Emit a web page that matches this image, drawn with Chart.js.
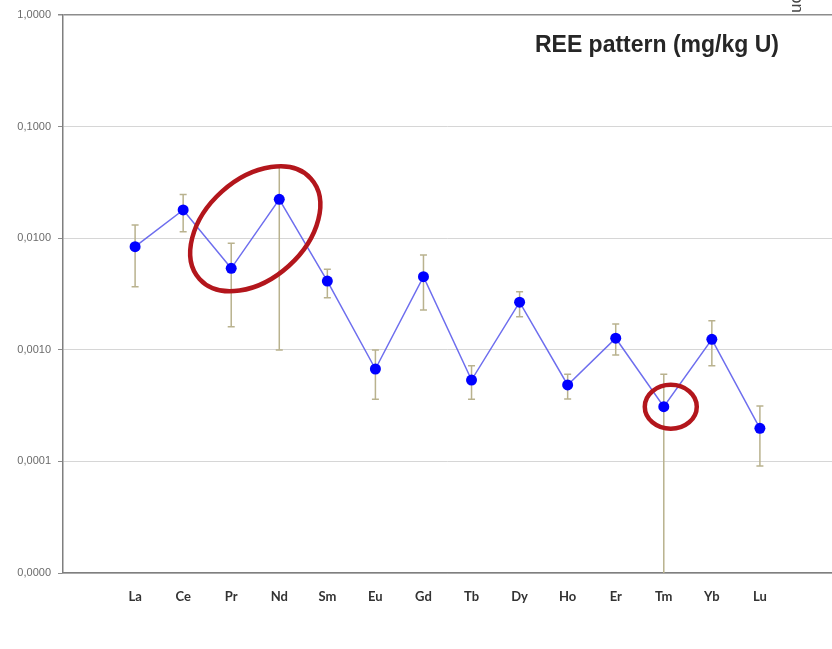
<!DOCTYPE html>
<html lang="en">
  <head>
    <meta charset="UTF-8" />
    <title>REE pattern</title>
    <script src="https://cdn.jsdelivr.net/npm/chart.js"></script>
    <style>
      body {
        margin: 0;
        background: #ffffff;
      }
      canvas {
        display: block;
      }
    </style>
  </head>
  <body>
    <canvas id="reeChart" width="832" height="649"></canvas>

    <script>
      // empty slots at both ends keep the spacing of the original axis
      const categories = ["", "La", "Ce", "Pr", "Nd", "Sm", "Eu", "Gd", "Tb", "Dy", "Ho", "Er", "Tm", "Yb", "Lu", ""];
      const values = [null, 0.00839, 0.0179, 0.00537, 0.0223, 0.00413, 0.000673, 0.00452, 0.000536, 0.00267, 0.000484, 0.00127, 0.000309, 0.00124, 0.000198, null];
      const errHigh = [null, 0.0131, 0.0247, 0.009, 0.0435, 0.00526, 0.000996, 0.00707, 0.000721, 0.00332, 0.000603, 0.0017, 0.000603, 0.00182, 0.000313, null];
      const errLow = [null, 0.00368, 0.01143, 0.00161, 0.000996, 0.00293, 0.00036, 0.00227, 0.00036, 0.00198, 0.000362, 0.000898, 0.00001, 0.000721, 0.000091, null];
      const yTicks = [1, 0.1, 0.01, 0.001, 0.0001, 0.00001];
      const yTickLabels = ["1,0000", "0,1000", "0,0100", "0,0010", "0,0001", "0,0000"];
      const chartTitle = "REE pattern (mg/kg U)";

      // error bars, drawn under the line
      const errorBars = {
        id: "errorBars",
        beforeDatasetsDraw(chart) {
          const { ctx, chartArea, scales } = chart;
          ctx.save();
          ctx.beginPath();
          ctx.rect(chartArea.left, chartArea.top, chartArea.right - chartArea.left, chartArea.bottom - chartArea.top);
          ctx.clip();
          ctx.strokeStyle = "#b9b28e";
          ctx.lineWidth = 1.5;
          for (let i = 0; i < categories.length; i++) {
            if (values[i] == null) continue;
            const x = scales.x.getPixelForValue(i);
            const top = scales.y.getPixelForValue(errHigh[i]);
            const bot = scales.y.getPixelForValue(errLow[i]);
            ctx.beginPath();
            ctx.moveTo(x, top);
            ctx.lineTo(x, bot);
            ctx.moveTo(x - 3.5, top);
            ctx.lineTo(x + 3.5, top);
            if (bot < chartArea.bottom - 1) {
              ctx.moveTo(x - 3.5, bot);
              ctx.lineTo(x + 3.5, bot);
            }
            ctx.stroke();
          }
          ctx.restore();
        },
      };

      // red circles marking Pr/Nd and Tm, plus the title text
      const notes = {
        id: "notes",
        afterDraw(chart) {
          const { ctx, scales } = chart;
          ctx.save();
          ctx.strokeStyle = "#b3161c";
          ctx.lineWidth = 4.5;

          const prX = scales.x.getPixelForValue(3);
          const ndX = scales.x.getPixelForValue(4);
          const prY = scales.y.getPixelForValue(values[3]);
          const ndY = scales.y.getPixelForValue(values[4]);
          ctx.beginPath();
          ctx.ellipse((prX + ndX) / 2, (prY + ndY) / 2 - 5, 75, 50, (-42 * Math.PI) / 180, 0, Math.PI * 2);
          ctx.stroke();

          const tmX = scales.x.getPixelForValue(12);
          const tmY = scales.y.getPixelForValue(values[12]);
          ctx.beginPath();
          ctx.ellipse(tmX + 7, tmY, 26, 22, 0, 0, Math.PI * 2);
          ctx.stroke();

          ctx.fillStyle = "#262626";
          ctx.font = "bold 23px 'Liberation Sans', Arial, sans-serif";
          ctx.textAlign = "right";
          ctx.textBaseline = "middle";
          ctx.fillText(chartTitle, 779, 46);

          // cut-off rotated label at the top right
          ctx.translate(797, -6);
          ctx.rotate(Math.PI / 2);
          ctx.font = "17px 'Liberation Sans', Arial, sans-serif";
          ctx.textAlign = "left";
          ctx.fillStyle = "#444";
          ctx.fillText("on", 0, 0);
          ctx.restore();
        },
      };

      const ctx = document.getElementById("reeChart").getContext("2d");
      new Chart(ctx, {
        type: "line",
        data: {
          labels: categories,
          datasets: [
            {
              data: values,
              borderColor: "rgba(85, 85, 235, 0.85)",
              borderWidth: 1.5,
              tension: 0,
              pointRadius: 5.5,
              pointBackgroundColor: "#0000ff",
              pointBorderWidth: 0,
            },
          ],
        },
        options: {
          responsive: false,
          animation: false,
          layout: { autoPadding: false, padding: { top: 15, right: -2, left: 0, bottom: 0 } },
          plugins: {
            legend: { display: false },
            tooltip: { enabled: false },
          },
          scales: {
            x: {
              offset: true,
              afterFit: (s) => {
                s.height = 76;
                s.paddingLeft = 0;
                s.paddingRight = 0;
              },
              grid: { display: false, drawTicks: false },
              border: { display: true, color: "#7f7f7f", width: 1.5 },
              ticks: {
                autoSkip: false,
                maxRotation: 0,
                padding: 16,
                color: "#333333",
                font: { family: "Lato, 'Liberation Sans', sans-serif", size: 13, weight: "bold" },
              },
            },
            y: {
              type: "logarithmic",
              min: 0.00001,
              max: 1,
              afterFit: (s) => {
                s.width = 63;
              },
              afterBuildTicks: (s) => {
                s.ticks = yTicks.map((v) => ({ value: v }));
              },
              grid: {
                color: (c) => (c.tick && c.tick.value === 1 ? "#8c8c8c" : "#d6d6d6"),
                lineWidth: (c) => (c.tick && c.tick.value === 1 ? 1.5 : 1),
                tickColor: "#8c8c8c",
                tickLength: 5,
              },
              border: { display: true, color: "#7f7f7f", width: 1.5 },
              ticks: {
                padding: 7,
                color: "#6b6b6b",
                font: { family: "'Liberation Sans', Arial, sans-serif", size: 11 },
                callback: (v) => yTickLabels[yTicks.indexOf(v)],
              },
            },
          },
        },
        plugins: [errorBars, notes],
      });
    </script>
  </body>
</html>
